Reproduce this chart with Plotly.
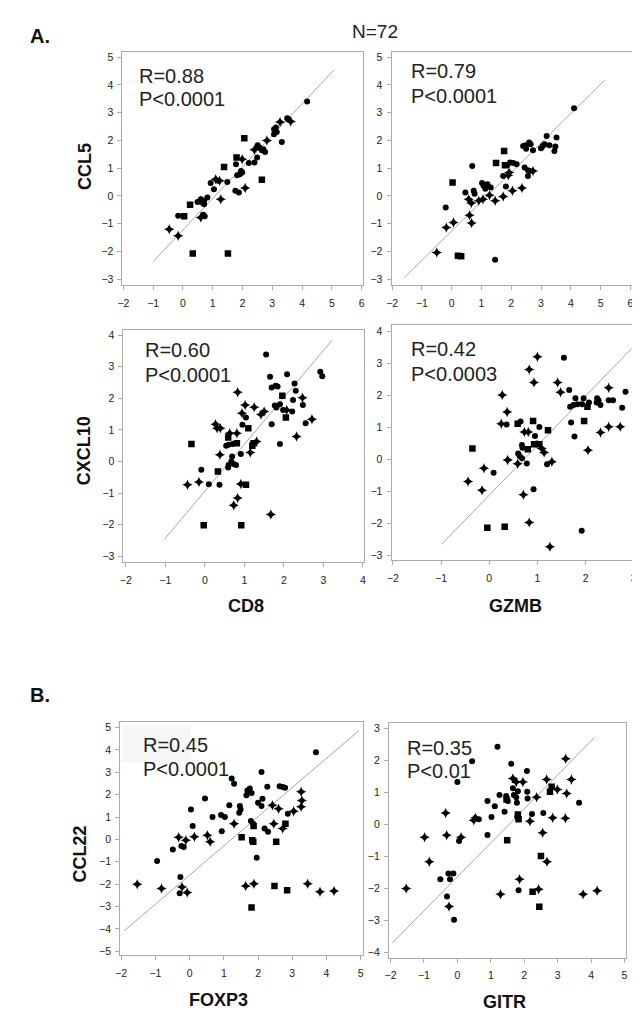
import plotly.graph_objects as go

W, H = 640, 1014

# ---------------- data ----------------
# group codes: c = circle, d = diamond, s = square
P1_X = [4.17,3.50,3.55,3.62,3.26,3.06,3.12,3.15,3.06,3.32, 2.82,2.06,2.51,2.57,2.65,2.70,2.76,2.40,2.49,2.40,
        2.21,1.80,1.99,1.78,1.38,2.65,1.82,1.91,1.99,1.95, 2.09,1.76,1.88,1.49,0.93,1.10,1.18,1.04,1.23,1.27,
        0.82,0.71,0.60,0.49,0.71,0.58,0.24,0.68,0.73,0.60, 0.04,-0.16,-0.46,-0.16,0.33,1.51]
P1_Y = [3.40,2.80,2.75,2.68,2.66,2.40,2.46,2.30,2.22,1.94, 2.00,2.08,1.82,1.74,1.64,1.68,1.58,1.66,1.38,1.20,
        1.18,1.38,1.32,1.14,1.04,0.58,0.74,0.78,0.84,0.90, 0.28,0.18,0.12,0.50,0.46,0.60,0.54,0.24,0.54,-0.12,
        -0.06,-0.18,-0.12,-0.22,-0.30,-0.18,-0.32,-0.68,-0.74,-0.78, -0.74,-0.72,-1.20,-1.44,-2.08,-2.08]
P1_G = "cccddccccc" "dscccccdcc" "csdcsscccc" "dccccdccdd" "cccccdsccd" "scddss"

P2_X = [4.11,3.52,3.19,3.28,3.06,3.12,3.00,3.48,3.45,2.73, 2.60,2.49,2.40,2.50,2.65,1.76,1.49,1.79,1.96,2.07,
        2.18,1.87,1.93,1.90,1.73,2.45,2.56,2.62,2.56,2.73, 0.69,0.03,1.02,1.07,1.20,1.31,1.13,1.46,1.73,1.27,
        1.05,0.46,0.74,0.77,0.91,0.57,0.66,1.82,2.04,2.36, 0.60,0.67,-0.20,-0.18,0.06,-0.50,0.21,0.32,1.46]
P2_Y = [3.16,2.10,2.16,1.82,1.80,1.86,1.72,1.78,1.62,1.64, 1.92,1.82,1.80,1.70,1.86,1.62,1.18,1.10,1.20,1.18,
        1.14,1.10,0.84,0.74,0.72,1.02,0.92,0.90,0.72,0.90, 1.08,0.48,0.46,0.36,0.42,0.30,0.26,-0.18,-0.02,0.02,
        -0.12,0.12,0.18,0.08,-0.18,-0.12,-0.26,0.34,0.18,0.28, -0.70,-0.98,-0.42,-1.14,-0.96,-2.04,-2.16,-2.18,-2.30]
P2_G = "cccccccccc" "cccccssscc" "ccddcccccd" "cscccccddd" "dcccdddcdd" "ddcdddssc"

P3_X = [1.55,1.65,1.69,1.79,1.84,1.77,1.81,2.08,2.27,2.30, 2.23,2.48,2.21,2.55,1.69,1.90,1.98,1.90,2.47,2.71,
        2.32,2.07,1.96,2.05,2.92,2.97,0.83,1.02,1.25,1.42, 1.50,0.94,1.04,0.95,1.10,0.27,0.31,0.39,0.63,0.81,
        0.59,0.81,0.60,0.70,0.54,1.23,1.20,1.31,1.15,0.91, 0.38,0.69,0.67,0.73,0.60,0.79,0.59,0.33,-0.09,-0.15,
        0.10,-0.44,0.37,0.91,1.04,-0.34,0.83,0.73,1.67,-0.03, 0.92]
P3_Y = [3.39,2.68,2.34,2.40,2.37,1.77,1.71,2.76,2.47,2.24, 1.95,1.79,1.58,1.21,1.18,0.55,1.63,1.81,2.02,1.34,
        0.79,1.63,2.08,1.39,2.84,2.70,2.19,1.79,1.72,1.49, 1.58,1.53,1.39,1.16,1.05,1.18,1.05,1.05,0.89,0.89,
        0.76,0.58,0.53,0.55,0.50,0.58,0.50,0.63,0.28,0.24, 0.21,0.16,0.00,-0.08,-0.11,-0.11,-0.19,-0.32,-0.26,-0.65,
        -0.72,-0.74,-0.74,-0.71,-0.74,0.55,-1.16,-1.39,-1.68,-2.02, -2.02]
P3_G = "cccccccccc" "ccccccccdd" "ddssccdddd" "ddccsddddd" "sscccssddc" "dccccccscd" "cdcdssdddss"

P4_X = [-0.44,-0.15,-0.11,0.09,-0.35,-0.04,0.32,0.27,0.37,0.25, 0.36,0.38,0.59,0.65,0.83,1.00,0.93,1.55,1.42,1.48,
        1.66,0.91,1.04,1.22,0.73,0.81,0.95,0.68,0.69,0.60, 0.63,0.68,0.80,0.93,1.04,0.99,1.09,1.14,0.59,0.78,
        1.20,1.30,0.71,0.92,0.83,1.26,1.92,1.70,1.77,1.97, 2.05,1.68,1.75,1.83,1.79,1.93,1.96,2.07,2.04,2.24,
        2.27,2.31,2.23,2.48,2.48,2.57,2.83,2.76,2.31,2.48, 2.72]
P4_Y = [-0.70,-0.97,-0.28,-0.42,0.34,-2.14,-2.11,2.01,1.48,1.11, 1.09,-0.02,1.11,1.18,2.81,3.21,2.40,3.18,2.40,2.10,
        2.17,1.20,1.01,0.91,0.85,0.85,0.73,0.45,0.36,0.18, 0.10,0.03,0.31,0.47,0.47,0.49,0.34,0.21,-0.14,-0.13,
        -0.16,-0.08,-1.11,-0.94,-1.98,-2.74,-2.24,1.15,0.71,1.20, 0.28,1.64,1.70,1.72,1.91,1.72,1.91,1.78,1.64,1.91,
        1.85,1.70,1.78,2.24,1.85,1.85,2.11,1.61,0.84,1.02, 1.02]
P4_G = "dddcsssddd" "cdscdddcdd" "cscsddcccc" "ccssscdddc" "cddcddcccs" "dcccccccsc" "cccdccccddd"

P5_X = [3.69,2.10,1.23,1.30,1.69,1.76,1.81,1.66,1.71,2.27, 2.63,2.72,2.79,2.13,2.00,2.10,2.42,2.60,3.26,3.28,
        3.26,3.04,2.87,0.45,1.16,1.47,1.49,1.45,0.04,0.67, 0.92,1.03,1.30,0.09,1.79,1.86,1.87,2.46,2.72,2.80,
        2.19,2.29,0.94,-0.32,0.14,0.52,0.60,-0.11,-0.24,-0.17, -0.49,1.52,1.83,1.86,2.53,1.96,-0.95,-1.53,-0.82,-0.27,
        -0.22,-0.29,-0.07,1.64,1.88,2.48,2.85,1.81,3.45,3.81, 4.22]
P5_Y = [3.90,3.02,2.72,2.49,2.19,2.28,2.08,1.98,2.16,2.35, 2.38,2.34,2.31,1.82,1.64,1.49,1.53,1.37,2.13,1.74,
        1.46,1.26,1.15,1.83,1.53,1.49,1.34,1.19,1.34,1.00, 1.09,1.00,0.70,0.60,0.82,0.70,0.60,0.70,0.49,0.70,
        0.49,0.34,0.37,0.10,0.12,0.19,-0.10,-0.04,-0.30,-0.34, -0.45,0.10,-0.04,-0.10,-0.10,-0.82,-0.97,-2.01,-2.20,-1.68,
        -2.13,-2.41,-2.38,-2.08,-1.98,-2.08,-2.28,-3.05,-1.98,-2.34, -2.31]
P5_G = "cccccccccc" "ccccccdddd" "ddcccccccc" "ccdcccsdds" "cccdddddcc" "cssssccddc" "dcdddsssddd"

P6_X = [1.20,0.44,1.61,3.24,2.08,0.00,1.66,1.76,1.96,2.67, 2.99,3.41,2.82,2.77,3.27,3.64,0.90,1.26,1.46,1.51,
        1.66,1.69,1.81,1.76,2.09,2.10,2.37,1.47,1.78,1.12, 1.41,1.81,1.83,1.79,2.23,2.17,2.57,2.85,3.23,1.02,
        0.49,0.54,0.64,-0.35,-0.98,-0.32,0.11,0.05,0.90,1.49, 2.55,2.50,2.68,-0.84,-0.51,-0.27,-0.12,-0.22,-1.53,-0.31,
        -0.25,-0.10,1.29,1.83,1.86,2.25,2.43,2.45,3.76,4.18]
P6_Y = [2.43,1.98,1.90,2.06,1.67,1.33,1.44,1.33,1.33,1.41, 1.09,1.41,1.18,1.02,0.97,0.68,0.73,0.92,0.89,0.73,
        1.13,0.92,1.04,0.85,1.02,0.81,0.85,0.78,0.68,0.57, 0.40,0.31,0.16,0.23,0.33,0.10,0.36,0.21,0.19,0.23,
        0.13,0.21,0.16,0.36,-0.40,-0.34,-0.40,-0.52,-0.33,-0.50, -0.26,-0.99,-1.17,-1.17,-1.72,-1.54,-1.54,-1.72,-2.01,-2.26,
        -2.57,-2.99,-2.19,-2.06,-1.72,-2.11,-2.03,-2.58,-2.19,-2.08]
P6_G = "cccdccdddd" "ddssdccccc" "ccccccdscc" "cssccdcddc" "ddcddddccs" "dsddccccdc" "dcdcdsdsdd"

# regression lines (end points)
FIT_X = [[-1.01, 5.09], [-1.58, 5.14], [-1.03, 3.22], [-0.99, 2.96], [-1.91, 4.95], [-1.95, 4.11]]
FIT_Y = [[-2.38, 4.56], [-2.94, 4.17], [-2.47, 3.84], [-2.66, 3.47], [-4.09, 4.87], [-3.72, 2.73]]

R_TEXT = ["R=0.88", "R=0.79", "R=0.60", "R=0.42", "R=0.45", "R=0.35"]
P_TEXT = ["P<0.0001", "P<0.0001", "P<0.0001", "P<0.0003", "P<0.0001", "P<0.01"]

X_TICKS = [list(range(-2, 7)), list(range(-2, 7)), list(range(-2, 5)), list(range(-2, 4)), list(range(-2, 6)), list(range(-2, 6))]
Y_TICKS = [list(range(-3, 6)), list(range(-3, 6)), list(range(-3, 5)), list(range(-3, 5)), list(range(-5, 6)), list(range(-4, 4))]

X_TITLES = ["CD8", "GZMB", "FOXP3", "GITR"]
Y_TITLES = ["CCL5", "CXCL10", "CCL22"]

# ---------------- layout geometry (pixels) ----------------
BOX = [  # x0, x1, y0(top), y1(bottom)
    (110.7, 354.0, 42.7, 276.7),
    (382.7, 625.7, 42.7, 276.7),
    (111.7, 355.0, 321.7, 554.0),
    (382.7, 630.0, 316.7, 552.3),
    (108.3, 354.0, 714.0, 948.3),
    (380.0, 620.0, 715.0, 950.7),
]
XR = [(-2.03, 6.05), (-2.02, 6.05), (-2.06, 4.03), (-2.03, 3.05), (-2.03, 5.07), (-2.05, 5.05)]
YR = [(-3.22, 5.2), (-3.22, 5.2), (-3.18, 4.16), (-3.16, 4.2), (-5.19, 5.27), (-4.18, 3.19)]
RPOS = [(125, 66.7, 90), (400, 62.5, 86.7), (131.7, 341.7, 366.7), (400, 340.7, 365.7), (129, 737.3, 761.7), (396, 740.7, 764)]

FONT = "Liberation Sans, Arial, sans-serif"
AX = "#ababab"

def px(x):
    return x / W

def py(y):
    return 1 - y / H

data = [(P1_X, P1_Y, P1_G), (P2_X, P2_Y, P2_G), (P3_X, P3_Y, P3_G),
        (P4_X, P4_Y, P4_G), (P5_X, P5_Y, P5_G), (P6_X, P6_Y, P6_G)]
for xs, ys, gs in data:
    assert len(xs) == len(ys) == len(gs), (len(xs), len(ys), len(gs))

SYM = {"c": ("circle", 6), "d": ("star-diamond", 7.5), "s": ("square", 6.5)}

fig = go.Figure()
layout = dict(width=W, height=H, margin=dict(l=0, r=0, t=0, b=0),
              paper_bgcolor="white", plot_bgcolor="white", showlegend=False,
              font=dict(family=FONT, color="#222"))
annotations = []
shapes = []

for i, (xs, ys, gs) in enumerate(data):
    n = i + 1
    xa = "x" if n == 1 else f"x{n}"
    ya = "y" if n == 1 else f"y{n}"
    fig.add_trace(go.Scatter(x=FIT_X[i], y=FIT_Y[i], mode="lines", xaxis=xa, yaxis=ya,
                             line=dict(color="#a6a6a6", width=1), hoverinfo="skip"))
    for g, (sym, size) in SYM.items():
        gx = [x for x, gg in zip(xs, gs) if gg == g]
        gy = [y for y, gg in zip(ys, gs) if gg == g]
        fig.add_trace(go.Scatter(x=gx, y=gy, mode="markers", xaxis=xa, yaxis=ya,
                                 marker=dict(symbol=sym, size=size, color="black",
                                             line=dict(width=0))))
    x0, x1, y0, y1 = BOX[i]
    common = dict(showline=True, mirror=True, linecolor=AX, linewidth=1, ticks="outside",
                  ticklen=4, tickcolor=AX, tickwidth=1, showgrid=False, zeroline=False,
                  tickfont=dict(size=10.5, color="#222", family=FONT))
    layout["xaxis" if n == 1 else f"xaxis{n}"] = dict(
        domain=[px(x0), px(x1)], range=list(XR[i]), tickvals=X_TICKS[i], anchor=ya,
        ticklabelstandoff=4, **common)
    layout["yaxis" if n == 1 else f"yaxis{n}"] = dict(
        domain=[py(y1), py(y0)], range=list(YR[i]), tickvals=Y_TICKS[i], anchor=xa,
        ticklabelstandoff=2, **common)
    rx, ry1, ry2 = RPOS[i]
    annotations.append(dict(x=px(rx), y=py(ry1), xref="paper", yref="paper", text=R_TEXT[i],
                            showarrow=False, xanchor="left", yanchor="middle",
                            font=dict(size=20, color="#222", family=FONT)))
    annotations.append(dict(x=px(rx), y=py(ry2), xref="paper", yref="paper", text=P_TEXT[i],
                            showarrow=False, xanchor="left", yanchor="middle",
                            font=dict(size=20, color="#222", family=FONT)))

# faint box behind the R text of panel 5
shapes.append(dict(type="rect", xref="paper", yref="paper", x0=px(110), x1=px(180),
                   y0=py(755), y1=py(718), fillcolor="#f6f6f6", line=dict(width=0), layer="below"))

bold = dict(size=18, color="#111", family=FONT)
# axis titles
for t, (x, y) in zip(X_TITLES, [(236, 598), (508, 598), (208, 993), (497, 995)]):
    annotations.append(dict(x=px(x), y=py(y), xref="paper", yref="paper", text=f"<b>{t}</b>",
                            showarrow=False, xanchor="center", yanchor="middle", font=bold))
for t, (x, y) in zip(Y_TITLES, [(72, 158), (72, 443), (68, 847)]):
    annotations.append(dict(x=px(x), y=py(y), xref="paper", yref="paper", text=f"<b>{t}</b>",
                            showarrow=False, xanchor="center", yanchor="middle", textangle=-90,
                            font=bold))
# panel letters and N
annotations.append(dict(x=px(27), y=py(27), xref="paper", yref="paper", text="<b>A.</b>",
                        showarrow=False, xanchor="center", yanchor="middle", font=dict(size=20, color="#111", family=FONT)))
annotations.append(dict(x=px(27), y=py(687), xref="paper", yref="paper", text="<b>B.</b>",
                        showarrow=False, xanchor="center", yanchor="middle", font=dict(size=20, color="#111", family=FONT)))
annotations.append(dict(x=px(366), y=py(23), xref="paper", yref="paper", text="N=72",
                        showarrow=False, xanchor="center", yanchor="middle", font=dict(size=19, color="#222", family=FONT)))

layout["annotations"] = annotations
layout["shapes"] = shapes
fig.update_layout(**layout)
fig.write_html("out.html")
